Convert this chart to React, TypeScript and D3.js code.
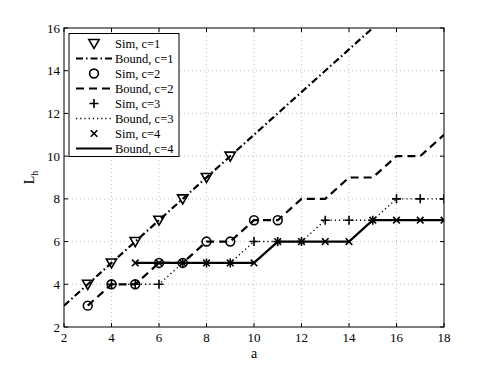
import React from "react";
import * as d3 from "d3";

const xTicks = [2, 4, 6, 8, 10, 12, 14, 16, 18];
const yTicks = [2, 4, 6, 8, 10, 12, 14, 16];

const sim1A = [3, 4, 5, 6, 7, 8, 9];
const sim1L = [4, 5, 6, 7, 8, 9, 10];
const bound1A = [2, 18];
const bound1L = [3, 19];

const sim2A = [3, 4, 5, 6, 7, 8, 9, 10, 11];
const sim2L = [3, 4, 4, 5, 5, 6, 6, 7, 7];
const bound2A = [3, 4, 5, 6, 7, 8, 9, 10, 11, 12, 13, 14, 15, 16, 17, 18];
const bound2L = [3, 4, 4, 5, 5, 6, 6, 7, 7, 8, 8, 9, 9, 10, 10, 11];

const sim3A = [4, 5, 6, 7, 8, 9, 10, 11, 12, 13, 14, 15, 16, 17, 18];
const sim3L = [4, 4, 4, 5, 5, 5, 6, 6, 6, 7, 7, 7, 8, 8, 8];
const bound3A = sim3A;
const bound3L = sim3L;

const sim4A = [5, 6, 7, 8, 9, 10, 11, 12, 13, 14, 15, 16, 17, 18];
const sim4L = [5, 5, 5, 5, 5, 5, 6, 6, 6, 6, 7, 7, 7, 7];
const bound4A = sim4A;
const bound4L = sim4L;

const legendLabels = ["Sim, c=1", "Bound, c=1", "Sim, c=2", "Bound, c=2", "Sim, c=3", "Bound, c=3", "Sim, c=4", "Bound, c=4"];

const W = 491, H = 369;
const L = 64, R = 444, T = 28, B = 327;
const FONT = "'Liberation Serif', 'DejaVu Serif', serif";

const x = d3.scaleLinear().domain([2, 18]).range([L, R]);
const y = d3.scaleLinear().domain([2, 16]).range([B, T]);

const zip = (a: number[], b: number[]) => a.map((v, i) => [v, b[i]] as [number, number]);
const line = d3.line<[number, number]>().x(d => x(d[0])).y(d => y(d[1]));

const dashStyles: Record<string, string | undefined> = {
  dashdot: "7,3,1.5,3",
  dashed: "8,5",
  dotted: "1.2,3",
  solid: undefined,
};

function Marker({ kind, cx, cy }: { kind: string; cx: number; cy: number }) {
  const sw = 1.6;
  if (kind === "tri") {
    const w = 5.2, h1 = 4, h2 = 5;
    return <polygon points={`${cx - w},${cy - h1} ${cx + w},${cy - h1} ${cx},${cy + h2}`} fill="none" stroke="#000" strokeWidth={sw} strokeLinejoin="miter" />;
  }
  if (kind === "circle") {
    return <circle cx={cx} cy={cy} r={4.4} fill="none" stroke="#000" strokeWidth={sw} />;
  }
  if (kind === "plus") {
    const s = 4.5;
    return <path d={`M${cx - s},${cy}H${cx + s}M${cx},${cy - s}V${cy + s}`} stroke="#000" strokeWidth={sw} />;
  }
  const s = 3.3;
  return <path d={`M${cx - s},${cy - s}L${cx + s},${cy + s}M${cx - s},${cy + s}L${cx + s},${cy - s}`} stroke="#000" strokeWidth={sw} />;
}

export default function App() {
  const bounds = [
    { pts: zip(bound1A, bound1L), style: "dashdot" },
    { pts: zip(bound2A, bound2L), style: "dashed" },
    { pts: zip(bound3A, bound3L), style: "dotted" },
    { pts: zip(bound4A, bound4L), style: "solid" },
  ];
  const sims = [
    { pts: zip(sim1A, sim1L), kind: "tri" },
    { pts: zip(sim2A, sim2L), kind: "circle" },
    { pts: zip(sim3A, sim3L), kind: "plus" },
    { pts: zip(sim4A, sim4L), kind: "x" },
  ];
  const legX0 = 69, legY0 = 33.5, legW = 110, legH = 123;
  const rowY = (i: number) => 43.5 + i * 15;
  return (
    <svg width={W} height={H} style={{ position: "absolute", left: 0, top: 0, background: "#fff", fontFamily: FONT }}>
      <defs>
        <clipPath id="plotclip">
          <rect x={L} y={T} width={R - L} height={B - T} />
        </clipPath>
      </defs>
      <rect x={0} y={0} width={W} height={H} fill="#fff" />
      <g stroke="#b0b0b0" strokeWidth={0.8} strokeDasharray="1,3">
        {xTicks.slice(1, -1).map(t => <line key={"gx" + t} x1={x(t)} x2={x(t)} y1={T} y2={B} />)}
        {yTicks.slice(1, -1).map(t => <line key={"gy" + t} x1={L} x2={R} y1={y(t)} y2={y(t)} />)}
      </g>
      <g clipPath="url(#plotclip)" fill="none" stroke="#000">
        {bounds.map((b, i) => (
          <path key={i} d={line(b.pts) || ""} strokeDasharray={dashStyles[b.style]} strokeWidth={b.style === "dotted" ? 1.4 : 2.2} />
        ))}
      </g>
      <g clipPath="url(#plotclip)">
        {sims.map((s, i) => s.pts.map((p, j) => <Marker key={i + "-" + j} kind={s.kind} cx={x(p[0])} cy={y(p[1])} />))}
      </g>
      <rect x={L} y={T} width={R - L} height={B - T} fill="none" stroke="#000" strokeWidth={1} />
      <g stroke="#000" strokeWidth={1}>
        {xTicks.map(t => (
          <g key={"tx" + t}>
            <line x1={x(t)} x2={x(t)} y1={B} y2={B - 4} />
            <line x1={x(t)} x2={x(t)} y1={T} y2={T + 4} />
          </g>
        ))}
        {yTicks.map(t => (
          <g key={"ty" + t}>
            <line x1={L} x2={L + 4} y1={y(t)} y2={y(t)} />
            <line x1={R} x2={R - 4} y1={y(t)} y2={y(t)} />
          </g>
        ))}
      </g>
      <g style={{ fontFamily: FONT }} fontSize={13} fill="#000">
        {xTicks.map(t => (
          <text key={"lx" + t} x={x(t)} y={B + 15} textAnchor="middle">{t}</text>
        ))}
        {yTicks.map(t => (
          <text key={"ly" + t} x={L - 4} y={y(t) + 4.5} textAnchor="end">{t}</text>
        ))}
        <text x={(L + R) / 2} y={B + 31} textAnchor="middle" fontSize={14}>a</text>
        <g transform={`translate(34,${(T + B) / 2}) rotate(-90)`}>
          <text textAnchor="middle" fontSize={14}>L<tspan fontSize={10} dy={4}>h</tspan></text>
        </g>
      </g>
      <rect x={legX0} y={legY0} width={legW} height={legH} fill="#fff" stroke="#000" strokeWidth={1} />
      {legendLabels.map((lab, i) => {
        const yy = rowY(i);
        const isSim = i % 2 === 0;
        const k = Math.floor(i / 2);
        return (
          <g key={lab}>
            {isSim ? (
              <Marker kind={sims[k].kind} cx={94} cy={yy} />
            ) : (
              <line x1={76} x2={112} y1={yy} y2={yy} stroke="#000" strokeWidth={bounds[k].style === "dotted" ? 1.4 : 2.2} strokeDasharray={dashStyles[bounds[k].style]} />
            )}
            <text x={115} y={yy + 4.5} style={{ fontFamily: FONT }} fontSize={12.5}>{lab}</text>
          </g>
        );
      })}
    </svg>
  );
}
